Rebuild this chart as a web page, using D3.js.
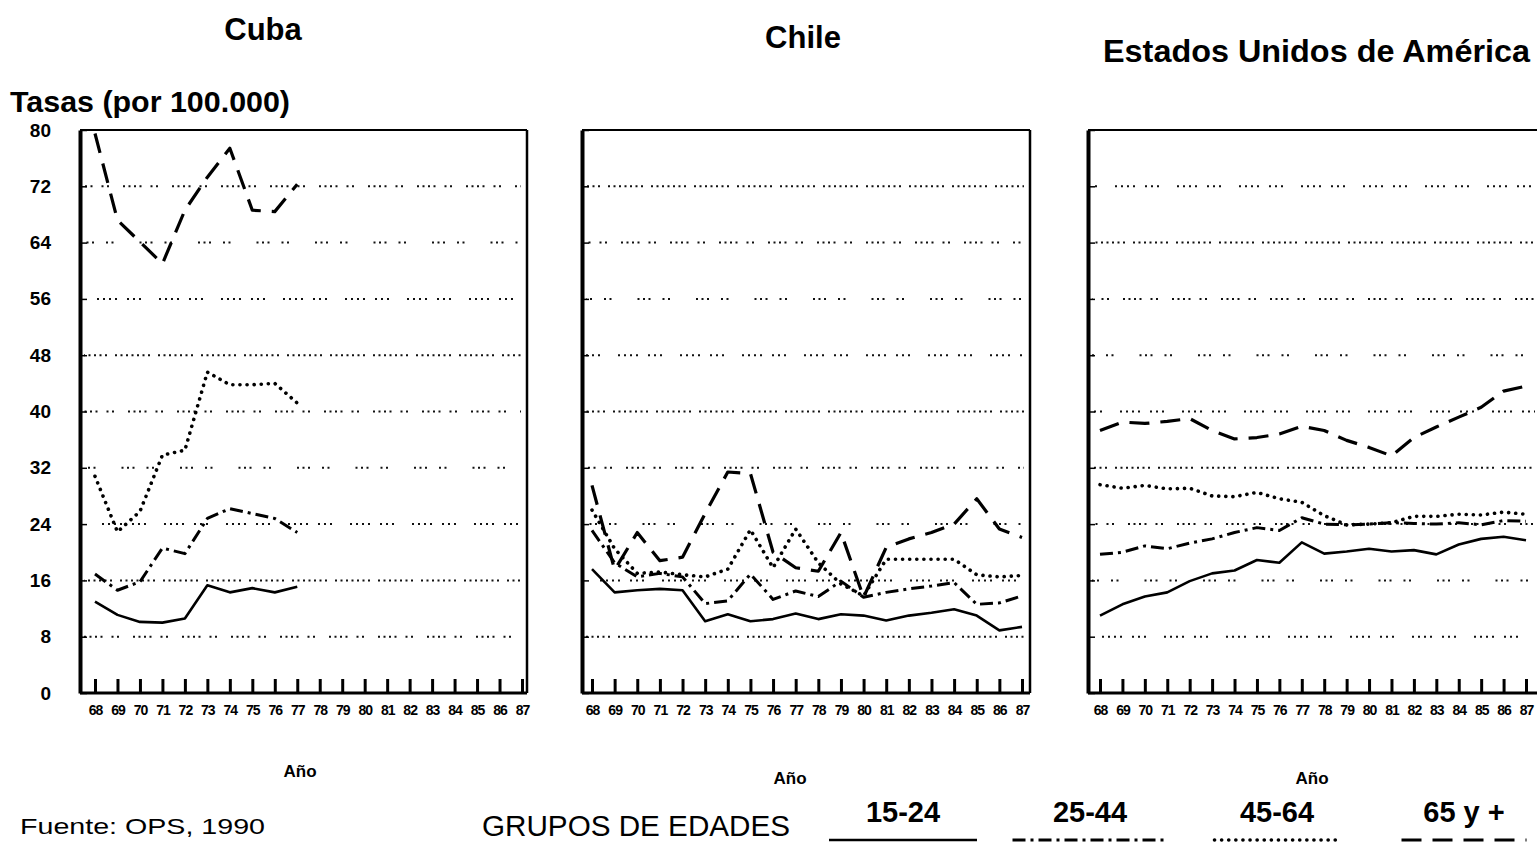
<!DOCTYPE html>
<html lang="es">
<head>
<meta charset="utf-8">
<script src="https://cdn.jsdelivr.net/npm/d3@7"></script>
<style>
  html, body { margin: 0; padding: 0; background: #fff; overflow: hidden; }
  svg { display: block; font-family: "Liberation Sans", Arial, Helvetica, sans-serif; }
</style>
</head>
<body>
<svg id="chart"></svg>
<script>
// years on the x axis (19xx)
const years = [68, 69, 70, 71, 72, 73, 74, 75, 76, 77, 78, 79, 80, 81, 82, 83, 84, 85, 86, 87];
const groups = ["15-24", "25-44", "45-64", "65 y +"];
const yTicks = [0, 8, 16, 24, 32, 40, 48, 56, 64, 72, 80];

// Cuba only has data 1968-1977
const cuba1524 = [13.0, 11.1, 10.1, 10.0, 10.6, 15.3, 14.3, 14.9, 14.3, 15.1];
const cuba2544 = [16.9, 14.6, 15.8, 20.6, 19.8, 24.8, 26.2, 25.5, 24.8, 22.8];
const cuba4564 = [30.8, 22.9, 25.8, 33.8, 34.5, 45.6, 43.8, 43.8, 44.0, 41.2];
const cuba65 = [79.5, 67.2, 64.1, 61.0, 68.6, 73.3, 77.4, 68.6, 68.4, 72.3];

const chile1524 = [17.6, 14.3, 14.6, 14.8, 14.6, 10.2, 11.2, 10.2, 10.5, 11.3, 10.5, 11.2, 11.0, 10.3, 11.0, 11.4, 11.9, 11.0, 8.9, 9.4];
const chile2544 = [23.1, 18.5, 16.5, 17.0, 16.5, 12.7, 13.1, 16.9, 13.3, 14.5, 13.7, 15.9, 13.6, 14.3, 14.8, 15.2, 15.7, 12.6, 12.8, 13.8];
const chile4564 = [26.0, 20.5, 17.0, 17.2, 16.8, 16.5, 17.6, 23.2, 17.8, 23.3, 18.5, 15.5, 13.8, 19.0, 19.0, 19.0, 19.0, 16.8, 16.5, 16.7];
const chile65 = [29.5, 17.5, 22.8, 18.8, 19.3, 25.5, 31.4, 31.2, 20.0, 17.8, 17.3, 22.8, 13.6, 20.7, 21.9, 22.8, 24.0, 27.6, 23.3, 22.1];

const usa1524 = [11.0, 12.6, 13.7, 14.3, 15.9, 17.0, 17.4, 18.9, 18.5, 21.4, 19.8, 20.1, 20.5, 20.1, 20.3, 19.7, 21.1, 21.9, 22.2, 21.7];
const usa2544 = [19.7, 20.0, 20.9, 20.5, 21.3, 21.9, 22.8, 23.5, 23.1, 24.9, 24.0, 23.9, 24.0, 24.2, 24.1, 24.0, 24.2, 23.9, 24.5, 24.4];
const usa4564 = [29.6, 29.1, 29.5, 29.0, 29.1, 28.0, 27.9, 28.5, 27.6, 27.1, 25.2, 23.9, 24.0, 24.2, 25.1, 25.1, 25.4, 25.3, 25.7, 25.4];
const usa65 = [37.3, 38.5, 38.3, 38.6, 39.0, 37.3, 36.1, 36.3, 36.8, 37.9, 37.3, 35.9, 34.9, 33.7, 36.3, 37.8, 39.2, 40.6, 42.9, 43.6];

const W = 1537, H = 842;

// line look for each age group (same order as groups)
const styles = [
    { dash: null, width: 2.6, cap: "butt" },
    { dash: "13,5,3,5", width: 3, cap: "butt" },
    { dash: "0.1,7", width: 3.6, cap: "round" },
    { dash: "20,11", width: 3.2, cap: "butt" }
];

// scanned dotted grid, a few different gap patterns
const gridDash = [
    "2,3.5,2,3.5,2,3.5,2,9,2,3.5,2,14",
    "2,3.5,2,3.5,2,3.5,2,3.5,2,3.5,2,3.5,2,8",
    "2,4,2,4,2,18,2,4,2,4,2,4,2,10",
    "2,3.5,2,3.5,2,12,2,3.5,2,26"
];

const panels = [
    { title: "Cuba", tx: 263, ty: 40, anchor: "middle",
      left: 80, right: 527, x68: 95, x87: 522, ano: [300, 777], yLabels: true,
      series: [cuba1524, cuba2544, cuba4564, cuba65] },
    { title: "Chile", tx: 803, ty: 48, anchor: "middle",
      left: 582, right: 1030, x68: 592, x87: 1022, ano: [790, 784], yLabels: false,
      series: [chile1524, chile2544, chile4564, chile65] },
    { title: "Estados Unidos de América", tx: 1103, ty: 62, tw: 427, anchor: "start",
      left: 1088, right: 1541, x68: 1100, x87: 1526, ano: [1312, 784], yLabels: false,
      series: [usa1524, usa2544, usa4564, usa65] }
];

const plotTop = 130, plotBottom = 693;

const svg = d3.select("#chart")
    .attr("width", W)
    .attr("height", H)
    .attr("viewBox", `0 0 ${W} ${H}`);

const y = d3.scaleLinear().domain([0, 80]).range([plotBottom, plotTop]);

panels.forEach((p, pi) => {
    const x = d3.scaleLinear().domain([68, 87]).range([p.x68, p.x87]);
    const g = svg.append("g").attr("class", "panel");

    // grid
    g.selectAll(".grid")
        .data(yTicks.filter(t => t > 0 && t < 80))
        .join("line")
        .attr("class", "grid")
        .attr("x1", p.left + 4)
        .attr("x2", Math.min(p.right - 6, W - 2))
        .attr("y1", d => y(d))
        .attr("y2", d => y(d))
        .attr("stroke", "#111")
        .attr("stroke-width", 2)
        .attr("stroke-dasharray", (d, i) => gridDash[(i + pi) % gridDash.length])
        .attr("stroke-dashoffset", (d, i) => (i * 7 + pi * 11) % 23);

    // frame
    g.append("line")
        .attr("x1", p.left).attr("x2", p.right)
        .attr("y1", plotTop).attr("y2", plotTop)
        .attr("stroke", "#000").attr("stroke-width", 2);
    g.append("line")
        .attr("x1", p.right).attr("x2", p.right)
        .attr("y1", plotTop).attr("y2", plotBottom)
        .attr("stroke", "#000").attr("stroke-width", 2.5);

    // y axis (ticks inside)
    const yAxis = d3.axisLeft(y)
        .tickValues(yTicks)
        .tickSizeInner(-7)
        .tickSizeOuter(0)
        .tickPadding(29)
        .tickFormat(p.yLabels ? d3.format("d") : () => "");
    const ya = g.append("g")
        .attr("transform", `translate(${p.left},0)`)
        .call(yAxis);
    ya.select(".domain").attr("stroke", "#000").attr("stroke-width", 4);
    ya.selectAll(".tick line").attr("stroke", "#000").attr("stroke-width", 1.5);
    ya.selectAll(".tick text")
        .attr("fill", "#000")
        .style("font-size", "19px")
        .style("font-weight", "bold");

    // x axis (ticks inside)
    const xAxis = d3.axisBottom(x)
        .tickValues(years)
        .tickSizeInner(-14)
        .tickSizeOuter(0)
        .tickPadding(12)
        .tickFormat(d => String(d));
    const xa = g.append("g")
        .attr("transform", `translate(0,${plotBottom})`)
        .call(xAxis);
    xa.select(".domain")
        .attr("d", `M${p.left},0H${Math.min(p.right, W)}`)
        .attr("stroke", "#000").attr("stroke-width", 3);
    xa.selectAll(".tick line").attr("stroke", "#000").attr("stroke-width", 3);
    xa.selectAll(".tick text")
        .attr("fill", "#000")
        .style("font-size", "14px")
        .style("font-weight", "bold")
        .style("letter-spacing", "-1px");

    // series
    const line = d3.line()
        .x((d, i) => x(years[i]))
        .y(d => y(d));

    p.series.forEach((s, si) => {
        const st = styles[si];
        g.append("path")
            .datum(s)
            .attr("d", line)
            .attr("fill", "none")
            .attr("stroke", "#000")
            .attr("stroke-width", st.width)
            .attr("stroke-linecap", st.cap)
            .attr("stroke-linejoin", "round")
            .attr("stroke-dasharray", st.dash);
    });

    // titles
    const t = svg.append("text")
        .attr("x", p.tx)
        .attr("y", p.ty)
        .attr("text-anchor", p.anchor)
        .style("font-size", "31px")
        .style("font-weight", "bold")
        .text(p.title);
    if (p.tw) t.attr("textLength", p.tw).attr("lengthAdjust", "spacingAndGlyphs");

    svg.append("text")
        .attr("x", p.ano[0])
        .attr("y", p.ano[1])
        .attr("text-anchor", "middle")
        .style("font-size", "17px")
        .style("font-weight", "bold")
        .text("Año");
});

svg.append("text")
    .attr("x", 10)
    .attr("y", 112)
    .attr("textLength", 280)
    .attr("lengthAdjust", "spacingAndGlyphs")
    .style("font-size", "30px")
    .style("font-weight", "bold")
    .text("Tasas (por 100.000)");

// legend
svg.append("text")
    .attr("x", 482)
    .attr("y", 836)
    .attr("textLength", 308)
    .attr("lengthAdjust", "spacingAndGlyphs")
    .style("font-size", "29px")
    .text("GRUPOS DE EDADES");

svg.append("text")
    .attr("x", 20)
    .attr("y", 834)
    .attr("textLength", 245)
    .attr("lengthAdjust", "spacingAndGlyphs")
    .style("font-size", "22px")
    .text("Fuente: OPS, 1990");

const legendX = d3.scalePoint().domain(groups).range([903, 1464]);
const sampleW = [148, 155, 125, 125];

groups.forEach((grp, i) => {
    const cx = legendX(grp);
    svg.append("text")
        .attr("x", cx)
        .attr("y", 822)
        .attr("text-anchor", "middle")
        .style("font-size", "29px")
        .style("font-weight", "bold")
        .text(grp);
    const st = styles[i];
    svg.append("line")
        .attr("x1", cx - sampleW[i] / 2)
        .attr("x2", cx + sampleW[i] / 2)
        .attr("y1", 840)
        .attr("y2", 840)
        .attr("stroke", "#000")
        .attr("stroke-width", st.width)
        .attr("stroke-linecap", st.cap)
        .attr("stroke-dasharray", st.dash);
});
</script>
</body>
</html>
